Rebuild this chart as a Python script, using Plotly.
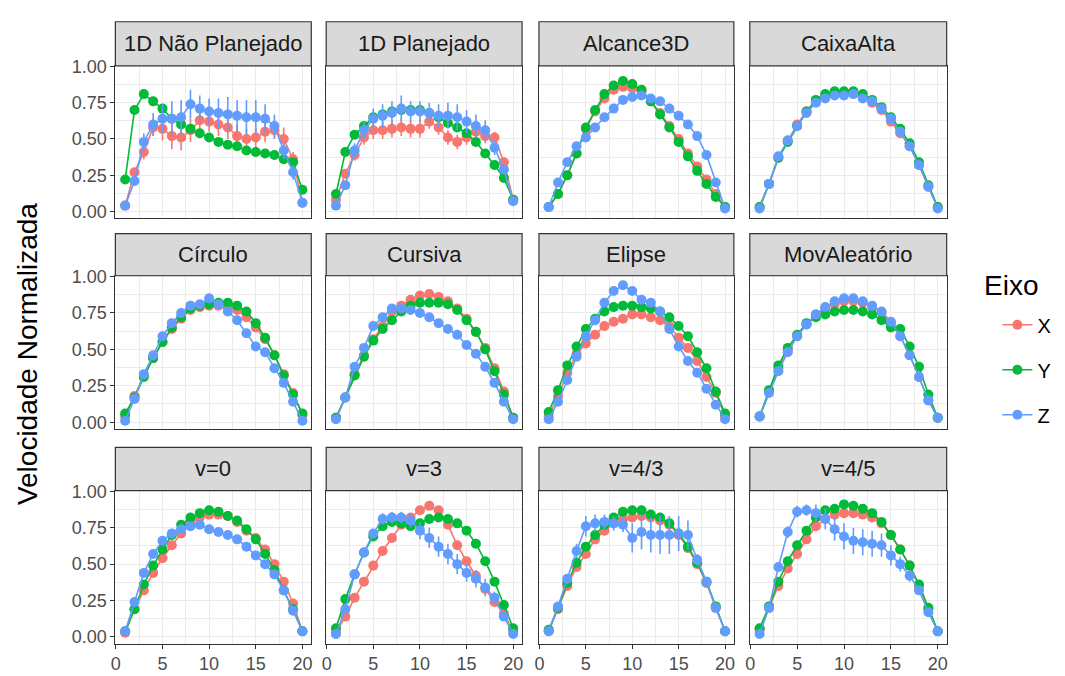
import plotly.graph_objects as go

W, H = 1065, 676

x_vals = list(range(1, 21))
panel_titles = ["1D Não Planejado", "1D Planejado", "Alcance3D", "CaixaAlta",
                "Círculo", "Cursiva", "Elipse", "MovAleatório",
                "v=0", "v=3", "v=4/3", "v=4/5"]
series_names = ["X", "Y", "Z"]
series_colors = ["#F8766D", "#00BA38", "#619CFF"]
x_ticks = [0, 5, 10, 15, 20]
y_ticks = [0.0, 0.25, 0.5, 0.75, 1.0]
y_tick_text = ["0.00", "0.25", "0.50", "0.75", "1.00"]

# 1D Não Planejado
p1_x = [0.04,0.27,0.41,0.58,0.57,0.52,0.51,0.56,0.63,0.62,0.60,0.58,0.52,0.50,0.51,0.55,0.56,0.50,0.36,0.06]
p1_y = [0.22,0.70,0.81,0.76,0.71,0.64,0.60,0.57,0.54,0.51,0.48,0.46,0.45,0.42,0.41,0.40,0.39,0.36,0.34,0.15]
p1_z = [0.04,0.21,0.48,0.60,0.64,0.64,0.65,0.74,0.71,0.69,0.68,0.67,0.66,0.65,0.65,0.64,0.59,0.42,0.27,0.06]
e1_x = [0,0.03,0.05,0.06,0.08,0.09,0.09,0.08,0.07,0.07,0.08,0.08,0.08,0.07,0.07,0.07,0.06,0.08,0.05,0.01]
e1_z = [0,0.03,0.06,0.08,0.10,0.12,0.12,0.10,0.09,0.09,0.10,0.12,0.11,0.12,0.12,0.10,0.08,0.06,0.05,0.02]
# 1D Planejado
p2_x = [0.08,0.26,0.39,0.51,0.56,0.56,0.57,0.58,0.57,0.57,0.62,0.58,0.51,0.48,0.51,0.55,0.52,0.51,0.34,0.08]
p2_y = [0.12,0.41,0.53,0.59,0.65,0.67,0.69,0.70,0.70,0.70,0.68,0.65,0.61,0.58,0.54,0.48,0.40,0.32,0.23,0.08]
p2_z = [0.04,0.18,0.42,0.56,0.64,0.66,0.68,0.71,0.69,0.69,0.68,0.66,0.66,0.65,0.62,0.59,0.56,0.44,0.29,0.07]
e2_x = [0,0.03,0.04,0.05,0.06,0.06,0.06,0.06,0.06,0.06,0.05,0.05,0.05,0.05,0.05,0.05,0.05,0.04,0.03,0.01]
e2_z = [0,0.03,0.05,0.06,0.07,0.08,0.08,0.09,0.07,0.07,0.07,0.08,0.09,0.09,0.08,0.08,0.07,0.05,0.03,0.01]
# Alcance3D
p3_x = [0.03,0.12,0.25,0.40,0.57,0.69,0.78,0.84,0.86,0.85,0.83,0.76,0.68,0.59,0.50,0.40,0.31,0.22,0.12,0.03]
p3_y = [0.03,0.12,0.25,0.40,0.58,0.70,0.81,0.87,0.90,0.88,0.84,0.76,0.67,0.58,0.48,0.38,0.28,0.19,0.10,0.03]
p3_z = [0.03,0.20,0.34,0.45,0.51,0.58,0.65,0.71,0.77,0.79,0.80,0.78,0.76,0.71,0.66,0.60,0.52,0.39,0.20,0.02]
# CaixaAlta
p4_x = [0.03,0.19,0.37,0.49,0.60,0.69,0.76,0.80,0.82,0.82,0.82,0.79,0.75,0.70,0.62,0.54,0.45,0.32,0.17,0.03]
p4_y = [0.03,0.19,0.37,0.48,0.59,0.69,0.77,0.81,0.83,0.83,0.83,0.81,0.77,0.72,0.65,0.57,0.47,0.34,0.18,0.03]
p4_z = [0.02,0.19,0.38,0.49,0.59,0.68,0.75,0.78,0.80,0.80,0.81,0.78,0.76,0.71,0.64,0.55,0.45,0.32,0.17,0.02]
# Círculo
p5_x = [0.04,0.18,0.32,0.44,0.55,0.64,0.71,0.77,0.79,0.80,0.80,0.79,0.77,0.72,0.65,0.57,0.46,0.33,0.20,0.05]
p5_y = [0.06,0.17,0.31,0.44,0.55,0.65,0.72,0.78,0.80,0.81,0.82,0.82,0.80,0.76,0.68,0.58,0.46,0.32,0.19,0.06]
p5_z = [0.01,0.16,0.33,0.46,0.59,0.68,0.75,0.80,0.81,0.85,0.81,0.76,0.70,0.61,0.52,0.48,0.37,0.27,0.14,0.01]
# Cursiva
p6_x = [0.03,0.17,0.33,0.46,0.57,0.66,0.76,0.80,0.84,0.87,0.88,0.86,0.83,0.78,0.71,0.62,0.51,0.37,0.21,0.03]
p6_y = [0.03,0.17,0.32,0.45,0.56,0.64,0.70,0.76,0.80,0.82,0.82,0.82,0.81,0.77,0.70,0.62,0.50,0.35,0.19,0.03]
p6_z = [0.02,0.17,0.38,0.51,0.66,0.72,0.78,0.78,0.77,0.75,0.72,0.68,0.64,0.60,0.53,0.47,0.38,0.27,0.14,0.02]
# Elipse
p7_x = [0.04,0.18,0.34,0.47,0.54,0.60,0.66,0.69,0.71,0.74,0.74,0.72,0.70,0.66,0.58,0.51,0.42,0.31,0.20,0.04]
p7_y = [0.07,0.22,0.39,0.52,0.64,0.71,0.76,0.79,0.80,0.80,0.79,0.78,0.76,0.72,0.66,0.59,0.48,0.37,0.21,0.06]
p7_z = [0.02,0.14,0.29,0.45,0.59,0.70,0.82,0.90,0.94,0.90,0.84,0.82,0.76,0.64,0.52,0.42,0.34,0.23,0.12,0.02]
# MovAleatório
p8_x = [0.04,0.21,0.37,0.49,0.59,0.67,0.74,0.78,0.81,0.83,0.83,0.82,0.79,0.75,0.68,0.59,0.46,0.31,0.15,0.03]
p8_y = [0.04,0.22,0.39,0.51,0.60,0.68,0.72,0.74,0.76,0.77,0.77,0.76,0.74,0.70,0.65,0.64,0.52,0.38,0.19,0.03]
p8_z = [0.04,0.20,0.35,0.48,0.59,0.67,0.74,0.79,0.83,0.85,0.85,0.83,0.80,0.76,0.69,0.59,0.46,0.31,0.15,0.03]
# v=0
p9_x = [0.03,0.19,0.32,0.44,0.54,0.63,0.71,0.78,0.82,0.84,0.84,0.83,0.79,0.73,0.68,0.60,0.50,0.38,0.23,0.04]
p9_y = [0.04,0.19,0.36,0.49,0.60,0.70,0.77,0.82,0.85,0.87,0.86,0.83,0.80,0.74,0.67,0.57,0.46,0.32,0.19,0.04]
p9_z = [0.04,0.24,0.44,0.57,0.66,0.71,0.74,0.76,0.77,0.74,0.72,0.70,0.67,0.62,0.56,0.50,0.43,0.32,0.18,0.04]
# v=3
p10_x = [0.03,0.14,0.27,0.38,0.49,0.59,0.68,0.77,0.82,0.87,0.90,0.87,0.77,0.63,0.52,0.42,0.33,0.24,0.16,0.04]
p10_y = [0.06,0.26,0.43,0.58,0.69,0.76,0.79,0.78,0.76,0.78,0.81,0.82,0.81,0.78,0.73,0.64,0.52,0.38,0.22,0.06]
p10_z = [0.02,0.19,0.43,0.58,0.71,0.81,0.82,0.82,0.80,0.73,0.68,0.62,0.57,0.50,0.44,0.40,0.34,0.27,0.14,0.02]
e10_z = [0,0.01,0.02,0.03,0.03,0.04,0.04,0.04,0.05,0.06,0.07,0.07,0.07,0.07,0.06,0.06,0.06,0.04,0.02,0.01]
# v=4/3
p11_x = [0.04,0.19,0.35,0.48,0.57,0.67,0.73,0.78,0.81,0.82,0.83,0.82,0.80,0.77,0.70,0.61,0.50,0.37,0.20,0.04]
p11_y = [0.05,0.20,0.37,0.51,0.62,0.70,0.77,0.82,0.86,0.87,0.87,0.84,0.82,0.78,0.71,0.62,0.51,0.38,0.21,0.04]
p11_z = [0.04,0.21,0.40,0.59,0.76,0.78,0.79,0.78,0.77,0.68,0.72,0.70,0.70,0.70,0.71,0.70,0.53,0.38,0.20,0.04]
e11_z = [0,0.01,0.03,0.05,0.07,0.06,0.05,0.05,0.05,0.10,0.12,0.12,0.13,0.13,0.12,0.10,0.04,0.02,0.01,0.01]
# v=4/5
p12_x = [0.05,0.20,0.35,0.47,0.57,0.67,0.76,0.81,0.84,0.85,0.85,0.84,0.82,0.78,0.70,0.60,0.49,0.35,0.19,0.04]
p12_y = [0.06,0.21,0.38,0.52,0.63,0.73,0.82,0.87,0.88,0.91,0.90,0.88,0.85,0.79,0.70,0.60,0.49,0.36,0.20,0.04]
p12_z = [0.02,0.20,0.48,0.72,0.86,0.87,0.85,0.81,0.74,0.69,0.66,0.65,0.64,0.63,0.56,0.50,0.42,0.32,0.17,0.04]
e12_z = [0,0.01,0.03,0.04,0.04,0.04,0.06,0.07,0.08,0.09,0.09,0.09,0.09,0.08,0.07,0.05,0.04,0.03,0.02,0.01]

panels = [
    (p1_x, p1_y, p1_z, e1_x, None, e1_z),
    (p2_x, p2_y, p2_z, e2_x, None, e2_z),
    (p3_x, p3_y, p3_z, None, None, None),
    (p4_x, p4_y, p4_z, None, None, None),
    (p5_x, p5_y, p5_z, None, None, None),
    (p6_x, p6_y, p6_z, None, None, None),
    (p7_x, p7_y, p7_z, None, None, None),
    (p8_x, p8_y, p8_z, None, None, None),
    (p9_x, p9_y, p9_z, None, None, None),
    (p10_x, p10_y, p10_z, None, None, e10_z),
    (p11_x, p11_y, p11_z, None, None, e11_z),
    (p12_x, p12_y, p12_z, None, None, e12_z),
]

# layout in pixels
cols_px = [(111, 308), (323, 520), (537, 733), (749, 947)]
rows_px = [(58, 213), (272, 428), (491, 647)]
strip_top_px = [13, 229, 447]

FONT = "Liberation Sans, Arial, sans-serif"
GRID = "#EBEBEB"
BORDER = "#333333"
TICK_SIZE = 18
STRIP_SIZE = 22

fig = go.Figure()
layout = dict(
    width=W, height=H, margin=dict(l=0, r=0, t=0, b=0),
    paper_bgcolor="white", plot_bgcolor="white",
    font=dict(family=FONT, color="#4D4D4D", size=TICK_SIZE),
    showlegend=True,
)
shapes = []
annotations = []

for i in range(12):
    r, c = divmod(i, 4)
    ax = "" if i == 0 else str(i + 1)
    x0p, x1p = cols_px[c]
    y0p, y1p = rows_px[r]
    xd = [x0p / W, x1p / W]
    yd = [1 - y1p / H, 1 - y0p / H]
    bottom = (r == 2)
    left = (c == 0)
    layout["xaxis" + ax] = dict(
        domain=xd, anchor="y" + ax, range=[-0.05, 20.95],
        tickvals=x_ticks, ticktext=[str(t) for t in x_ticks],
        showticklabels=bottom, ticks="outside" if bottom else "",
        ticklen=4, tickwidth=1.1, tickcolor=BORDER,
        tickfont=dict(size=TICK_SIZE, color="#4D4D4D"),
        showgrid=True, gridcolor=GRID, gridwidth=1.1,
        minor=dict(tickvals=[2.5, 7.5, 12.5, 17.5], showgrid=True,
                   gridcolor=GRID, gridwidth=0.6, ticks=""),
        zeroline=False, showline=True, mirror=True,
        linecolor=BORDER, linewidth=1.2, fixedrange=True,
    )
    layout["yaxis" + ax] = dict(
        domain=yd, anchor="x" + ax, range=[-0.045, 1.005],
        tickvals=y_ticks, ticktext=y_tick_text,
        showticklabels=left, ticks="outside" if left else "",
        ticklen=4, tickwidth=1.1, tickcolor=BORDER,
        tickfont=dict(size=TICK_SIZE, color="#4D4D4D"),
        showgrid=True, gridcolor=GRID, gridwidth=1.1,
        minor=dict(tickvals=[0.125, 0.375, 0.625, 0.875], showgrid=True,
                   gridcolor=GRID, gridwidth=0.6, ticks=""),
        zeroline=False, showline=True, mirror=True,
        linecolor=BORDER, linewidth=1.2, fixedrange=True,
    )
    # strip
    st = strip_top_px[r]
    shapes.append(dict(type="rect", xref="paper", yref="paper",
                       x0=x0p / W, x1=x1p / W, y0=1 - y0p / H, y1=1 - st / H,
                       fillcolor="#D9D9D9", line=dict(color=BORDER, width=1.2)))
    annotations.append(dict(text=panel_titles[i], xref="paper", yref="paper",
                            x=(x0p + x1p) / 2 / W, y=1 - (st + y0p) / 2 / H,
                            xanchor="center", yanchor="middle", showarrow=False,
                            font=dict(size=STRIP_SIZE, color="#1A1A1A", family=FONT)))
    vals = panels[i][:3]
    errs = panels[i][3:]
    for s in range(3):
        tr = dict(
            x=x_vals, y=vals[s], mode="lines+markers",
            name=series_names[s], legendgroup=series_names[s],
            showlegend=(i == 0),
            line=dict(color=series_colors[s], width=1.6),
            marker=dict(color=series_colors[s], size=10),
            xaxis="x" + ax, yaxis="y" + ax,
        )
        if errs[s] is not None:
            tr["error_y"] = dict(type="data", array=errs[s], visible=True,
                                 thickness=1.6, width=0, color=series_colors[s])
        fig.add_trace(go.Scatter(**tr))

annotations.append(dict(text="Velocidade Normalizada", xref="paper", yref="paper",
                        x=22 / W, y=1 - 352 / H, textangle=-90, showarrow=False,
                        xanchor="center", yanchor="middle",
                        font=dict(size=28, color="#000000", family=FONT)))
annotations.append(dict(text="Eixo", xref="paper", yref="paper",
                        x=983 / W, y=1 - 282 / H, showarrow=False,
                        xanchor="left", yanchor="middle",
                        font=dict(size=28, color="#000000", family=FONT)))

layout["legend"] = dict(
    x=998 / W, y=1 - 302 / H, xanchor="left", yanchor="top",
    font=dict(size=20, color="#000000", family=FONT),
    traceorder="grouped", tracegroupgap=16,
    bgcolor="rgba(0,0,0,0)", itemwidth=30,
)
layout["shapes"] = shapes
layout["annotations"] = annotations
fig.update_layout(**layout)
fig.write_html("out.html")
